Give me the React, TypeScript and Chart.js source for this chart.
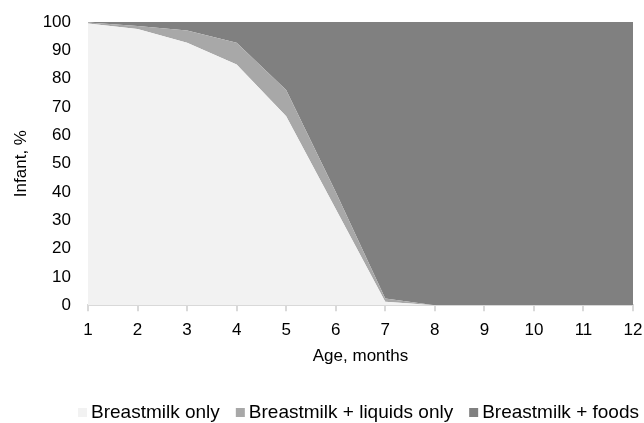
import React, { useEffect, useRef } from "react";
import { Chart, registerables } from "chart.js";

Chart.register(...registerables);

const months = ["1", "2", "3", "4", "5", "6", "7", "8", "9", "10", "11", "12"];
const breastmilkOnly = [99.5, 97.5, 92.7, 85, 66.7, 34, 1.2, 0, 0, 0, 0, 0];
const liquidsOnly = [0.3, 1.1, 4.3, 7.7, 9.3, 6, 1.2, 0, 0, 0, 0, 0];
const foods = [0.2, 1.4, 3, 7.3, 24, 60, 97.6, 100, 100, 100, 100, 100];
const yTicks = [0, 10, 20, 30, 40, 50, 60, 70, 80, 90, 100];

const FAMILY = '"Liberation Sans", Arial, sans-serif';

const bottomLegend = {
  id: "bottomLegend",
  afterDraw(chart: any) {
    const ctx = chart.ctx as CanvasRenderingContext2D;
    const items = chart.data.datasets.map((d: any) => ({ text: d.label as string, color: d.backgroundColor as string }));
    const box = 9;
    const gapText = 4;
    const gapItem = 16;
    ctx.save();
    ctx.font = `19px ${FAMILY}`;
    const widths = items.map((it: any) => box + gapText + ctx.measureText(it.text).width);
    const total = widths.reduce((a: number, b: number) => a + b, 0) + gapItem * (items.length - 1);
    const area = chart.chartArea;
    let x = (area.left + area.right) / 2 - total / 2 - 2;
    const baseline = 417.5;
    ctx.textBaseline = "alphabetic";
    ctx.textAlign = "left";
    items.forEach((it: any, i: number) => {
      ctx.fillStyle = it.color;
      ctx.fillRect(x, baseline - box - 0.5, box, box);
      ctx.fillStyle = "#000";
      ctx.fillText(it.text, x + box + gapText, baseline);
      x += widths[i] + gapItem;
    });
    ctx.restore();
  },
};

export default function App() {
  const ref = useRef<HTMLCanvasElement>(null);
  useEffect(() => {
    if (!ref.current) return;
    const font = { family: FAMILY, size: 17 };
    const chart = new Chart(ref.current, {
      type: "line",
      data: {
        labels: months,
        datasets: [
          { label: "Breastmilk only", data: breastmilkOnly, backgroundColor: "#f2f2f2", borderWidth: 0, pointRadius: 0, fill: "origin", tension: 0 },
          { label: "Breastmilk + liquids only", data: liquidsOnly, backgroundColor: "#a8a8a8", borderWidth: 0, pointRadius: 0, fill: "-1", tension: 0 },
          { label: "Breastmilk + foods", data: foods, backgroundColor: "#808080", borderWidth: 0, pointRadius: 0, fill: "-1", tension: 0 },
        ],
      },
      plugins: [bottomLegend],
      options: {
        animation: false,
        responsive: false,
        layout: { padding: { left: 11, right: 11, top: 22, bottom: 56 } },
        plugins: {
          tooltip: { enabled: false },
          legend: { display: false },
        },
        scales: {
          x: {
            type: "category",
            offset: false,
            grid: { display: true, drawOnChartArea: false, drawTicks: true, tickLength: 6, color: "#d9d9d9", lineWidth: 2 },
            border: { display: true, color: "#d9d9d9", width: 2 },
            ticks: { font, color: "#000", maxRotation: 0, autoSkip: false, padding: 9 },
            title: { display: true, text: "Age, months", font, color: "#000", padding: { top: -3, bottom: 0 } },
            afterFit: (s: any) => { s.paddingLeft = 0; s.paddingRight = 0; },
          },
          y: {
            stacked: true,
            min: 0,
            max: 100,
            afterBuildTicks: (axis: any) => { axis.ticks = yTicks.map((v) => ({ value: v })); },
            grid: { display: false, drawTicks: false },
            border: { display: false },
            ticks: { font, color: "#000", padding: 17 },
            title: { display: true, text: "Infant, %", font, color: "#000", padding: { top: 0, bottom: 0 } },
            afterFit: (s: any) => { s.width = 77; s.paddingTop = 0; s.paddingBottom = 0; },
          },
        },
      },
    } as any);
    return () => chart.destroy();
  }, []);
  return (
    <div style={{ position: "absolute", left: 0, top: 0, width: 644, height: 423, background: "#fff" }}>
      <canvas ref={ref} width={644} height={423} />
    </div>
  );
}
